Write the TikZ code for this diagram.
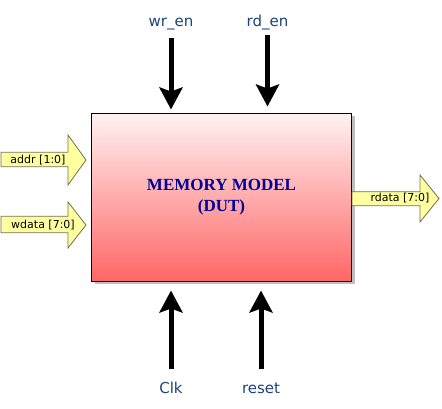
\documentclass[tikz,border=0pt]{standalone}
\usepackage{fontspec}
\setmainfont{Liberation Serif}
\newfontfamily\labfont{DejaVu Sans}
\usetikzlibrary{arrows.meta,shadows}
\definecolor{labblue}{HTML}{1C4478}
\definecolor{titleblue}{HTML}{000099}
\definecolor{busfill}{HTML}{FFFFA0}
\definecolor{busdraw}{HTML}{707050}
\definecolor{boxbot}{HTML}{FF6666}
\definecolor{boxtop}{HTML}{FFF2F2}
\begin{document}
\begin{tikzpicture}[x=1pt,y=-1pt,
  sig/.style={font=\labfont\fontsize{15}{18}\selectfont, text=labblue, inner sep=0pt},
  bigarrow/.style={line width=5pt, -{Stealth[width=23pt,length=22pt,inset=4pt]}},
  bus/.style={fill=busfill, draw=busdraw, line width=0.8pt, line join=miter},
  bustext/.style={font=\labfont\fontsize{11}{13}\selectfont, inner sep=0pt},
  dut/.style={draw, line width=1pt, minimum width=260pt, minimum height=168pt,
    top color=boxtop, bottom color=boxbot,
    drop shadow={shadow xshift=3pt, shadow yshift=-3pt, fill=black!25, opacity=1},
    align=center, font=\bfseries\fontsize{17}{20.5}\selectfont, text=titleblue, inner sep=0pt}
]
\useasboundingbox (0,0) rectangle (442,408);

\node[dut] (box) at (221.5,197) {MEMORY MODEL\\(DUT)};

% input / output buses
\draw[bus] (1,152.3) -- (68,152.3) -- (68,135) -- (86,160) -- (68,185) -- (68,166.7) -- (1,166.7) -- cycle;
\node[bustext] (addr) at (38,160) {addr [1:0]};
\draw[bus] (1,216.3) -- (68,216.3) -- (68,202) -- (86,225) -- (68,248) -- (68,232.7) -- (1,232.7) -- cycle;
\node[bustext] (wdata) at (43,225) {wdata [7:0]};
\draw[bus] (352,191.7) -- (420,191.7) -- (420,175) -- (439,198.5) -- (420,222) -- (420,205.7) -- (352,205.7) -- cycle;
\node[bustext] (rdata) at (400,198.5) {rdata [7:0]};

% control signals
\node[sig, anchor=base] (wr) at (171,26.7) {wr\_en};
\node[sig, anchor=base] (rd) at (267.5,26.7) {rd\_en};
\node[sig, anchor=base] (clk) at (171,393) {Clk};
\node[sig, anchor=base] (rst) at (261,393) {reset};

\draw[bigarrow, shorten <=8pt, shorten >=3pt] (wr.south) -- (wr.south |- box.north);
\draw[bigarrow, shorten <=5pt, shorten >=6pt] (rd.south) -- (rd.south |- box.north);
\draw[bigarrow, shorten <=12pt, shorten >=9pt] (clk.north) -- (clk.north |- box.south);
\draw[bigarrow, shorten <=13pt, shorten >=9pt] (rst.north) -- (rst.north |- box.south);
\end{tikzpicture}
\end{document}
